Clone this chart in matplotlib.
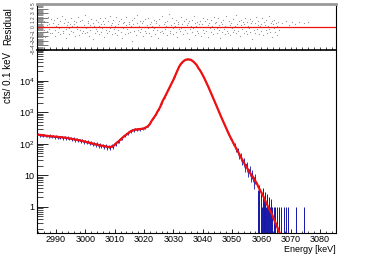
import numpy as np
import matplotlib
matplotlib.use('Agg')
import matplotlib.pyplot as plt
from matplotlib.ticker import MultipleLocator, LogLocator, FuncFormatter, NullFormatter

plt.rcParams['font.family'] = ['Liberation Sans', 'DejaVu Sans']
plt.rcParams['mathtext.fontset'] = 'custom'
plt.rcParams['mathtext.rm'] = 'Liberation Sans'
plt.rcParams['mathtext.it'] = 'Liberation Sans:italic'

# fit curve, 0.5 keV steps starting at 2984.0 keV
fit_start = 2984.0
fit_cts = [192, 190, 188, 186, 182, 179, 177, 175,
           173, 171, 170, 168, 167, 165, 163, 162,
           160, 158, 155, 153, 150, 148, 145, 142,
           139, 136, 133, 131, 128, 125, 122, 119,
           116, 113, 110, 107, 104, 102, 99, 96,
           94, 91, 89, 87, 85, 83, 81, 79,
           78, 78, 80, 84, 92, 103, 112, 123,
           136, 150, 164, 180, 195, 212, 232, 250,
           260, 270, 280, 284, 287, 289, 294, 298,
           305, 325, 340, 370, 420, 510, 600, 700,
           810, 1000, 1200, 1450, 1900, 2400, 2900, 3600,
           4500, 5600, 7000, 8600, 10500, 13500, 17500, 22000,
           28000, 33000, 37500, 41500, 45000, 46800, 47500, 47000,
           45800, 42500, 39000, 35000, 31000, 25500, 22000, 18500,
           15200, 12400, 9900, 7900, 6200, 4850, 3800, 2950,
           2300, 1780, 1380, 1070, 830, 650, 510, 400,
           315, 248, 196, 158, 128, 104, 86, 70,
           57, 46, 38, 31, 26, 21, 18, 15,
           12.5, 10.5, 9, 8, 6.5, 5.5, 4.3, 3.5,
           2.8, 2.3, 1.9, 1.45, 1.15, 0.92, 0.75, 0.62,
           0.48, 0.37, 0.29, 0.22, 0.17, 0.13]

# measured spectrum, 0.5 keV steps starting at 2984.0 keV
data_start = 2984.0
data_cts = [200, 178, 195, 170, 188, 172, 181, 166,
            182, 160, 176, 158, 171, 152, 168, 150,
            166, 147, 162, 141, 158, 139, 151, 133,
            147, 128, 140, 122, 133, 117, 129, 110,
            121, 105, 116, 99, 110, 94, 104, 90,
            99, 84, 95, 80, 90, 76, 86, 72,
            83, 70, 86, 76, 98, 96, 116, 114,
            143, 141, 172, 170, 204, 200, 240, 238,
            270, 255, 292, 268, 298, 275, 305, 283,
            316, 312, 352, 360, 430, 500, 610, 690,
            815, 1005, 1195, 1445, 1905, 2395, 2910, 3590,
            4510, 5590, 7020, 8580, 10520, 13480, 17520, 21980,
            28030, 32970, 37530, 41480, 45030, 46770, 47530, 46980,
            45820, 42470, 39040, 34970, 31030, 25480, 22030, 18470,
            15230, 12380, 9920, 7880, 6220, 4830, 3810, 2940,
            2310, 1770, 1390, 1060, 840, 640, 515, 395,
            320, 240, 200, 150, 134, 100, 92, 64,
            64, 40, 43, 26, 30, 17, 22, 12,
            15, 9, 11, 6, 8]

# sparse high-energy tail bins (drawn down to the axis)
tail_E = [3058.9, 3059.4, 3059.8, 3060.2, 3060.5, 3060.8, 3061.1, 3061.3,
          3061.6, 3061.9, 3062.2, 3062.6, 3063.0, 3063.4, 3063.8, 3064.2,
          3064.7, 3065.3, 3065.9, 3066.8, 3067.6, 3068.5, 3069.1, 3071.9,
          3074.7]
tail_cts = [3.5, 5, 2.5, 1, 4, 2, 1, 3,
            1, 2.5, 1, 2, 1, 1.8, 1, 1,
            1, 1, 1, 1, 1, 1, 1, 1,
            1]

# residuals, 0.25 keV steps from 2984 to 3066 keV
resid = [0.4, -1.1, 1.6, -0.3, 0.9, -1.8, 0.2, 1.3, -0.7, -2.1, 1.0, 0.5, -0.9, 2.2, -0.4, 0.7, -1.4, 1.8, -0.1, -1.2,
         0.8, 1.5, -0.6, -1.9, 0.3, 2.0, -1.0, 0.6, -0.2, 1.2, -1.6, 0.1, 2.4, -0.8, -1.3, 0.9, 1.7, -0.5, -2.3, 0.4,
         1.1, -0.3, -1.5, 0.7, 1.9, -0.9, 0.2, -1.1, 1.4, 0.6, -2.0, 1.0, -0.4, 0.3, 2.1, -1.7, -0.6, 1.3, 0.0, -1.2,
         1.6, -0.8, 0.5, -1.4, 2.6, -0.2, -1.0, 0.8, 1.2, -1.9, 0.4, -0.7, 1.8, -0.1, -2.5, 0.9, 0.2, -1.3, 1.5, -0.5,
         -0.9, 1.1, 0.3, -1.6, 2.0, 0.6, -1.1, -0.3, 1.4, -2.2, 0.7, 1.9, -0.6, 0.1, -1.4, 1.2, -0.8, 2.3, -0.2, 0.5,
         -1.5, 0.9, 1.6, -0.4, -1.2, 0.2, 2.1, -1.8, 0.6, -0.7, 1.3, 0.0, -1.0, 1.7, -2.4, 0.8, -0.3, 1.0, -1.6, 0.4,
         2.2, -0.5, -1.3, 0.7, 1.1, -1.0, 0.3, -3.1, 1.5, 0.6, -0.8, 1.9, -0.1, -1.7, 0.9, 2.5, -0.6, 0.2, -1.1, 1.3,
         -0.4, 0.8, -2.0, 1.4, 0.1, -0.9, 1.8, -1.4, 0.5, -0.3, 2.0, -1.2, 0.7, 1.0, -1.9, 0.3, -0.7, 1.6, -0.2, -1.5,
         0.9, 1.2, -0.6, -2.3, 0.4, 1.7, -1.0, 0.0, 2.3, -0.8, -1.4, 0.6, 1.1, -0.5, 0.2, -1.8, 1.4, -0.1, 2.8, -0.9,
         -1.2, 0.5, 1.9, -0.3, -1.6, 0.8, 0.3, -1.1, 1.5, -2.1, 0.7, 1.0, -0.4, -0.9, 2.1, -0.2, 0.6, -1.5, 1.2, 0.1,
         -0.7, 1.8, -1.3, 0.4, 0.9, -2.6, 1.3, -0.5, 0.2, 1.6, -1.0, -0.2, 2.4, -1.7, 0.8, 0.3, -0.8, 1.1, -1.2, 0.6,
         1.4, -0.1, -1.9, 0.7, 2.0, -0.6, -1.4, 1.2, 0.0, -0.9, 1.7, -2.2, 0.5, 0.9, -0.3, 1.5, -1.1, 0.2, -1.6, 2.2,
         -0.4, 0.8, 1.1, -1.3, -0.2, 1.9, -0.7, 0.4, -2.4, 1.0, 0.6, -1.0, 1.6, -0.5, -1.5, 0.3, 2.3, -0.8, 0.1, -1.2,
         1.3, 0.5, -1.7, 0.9, -0.3, 1.8, -1.1, -0.6, 0.2, 2.6, -1.4, 0.7, -0.9, 1.2, 0.0, -2.0, 1.5, 0.4, -0.5, 1.0,
         -1.3, 0.6, 2.0, -0.8, -1.6, 1.1, 0.3, -0.2, 1.7, -1.0, 0.8, -2.7, 1.4, 0.1, -0.6, 0.9, -1.2, 2.1, -0.4, 0.5,
         1.2, -1.5, 0.2, 0.7, -0.9, 1.9, -0.1, -1.8, 1.0, 0.4, -0.7, 1.6, -1.3, 0.3, 2.4, -0.5, -1.1, 0.8, 1.3, -2.1,
         0.6, -0.3, 1.5, -1.0, 0.9, -1.7, 0.2, 1.1, -0.6]
resid_tail_E = [3067.0, 3068.3, 3069.5, 3070.4, 3071.6, 3072.8, 3074.5, 3076.0]
resid_tail = [0.8, 1.2, 0.5, 1.0, 0.7, 1.1, 0.9, 1.0]

fit_E = fit_start + 0.5 * np.arange(len(fit_cts))
data_E = data_start + 0.5 * np.arange(len(data_cts))
data_cts = np.array(data_cts, dtype=float)
res_E = np.linspace(2984.0, 3066.0, len(resid))

xmin, xmax = 2983.5, 3085.5
ymin, ymax = 0.146, 94000
blue = '#1515a8'
red = '#f01010'

fig = plt.figure(figsize=(3.74, 2.54), dpi=100)
ax = fig.add_axes([37/374, 21/254, 299/374, 183/254])
axr = fig.add_axes([37/374, 204/254, 299/374, 46/254])

# main panel
ax.errorbar(data_E, data_cts, yerr=np.sqrt(data_cts), color=blue, lw=0.7,
            elinewidth=0.6, capsize=0, zorder=2)
ax.vlines(tail_E, ymin, tail_cts, color=blue, lw=0.7, zorder=2)
ax.plot(fit_E, fit_cts, color=red, lw=1.6, zorder=3)

ax.set_xlim(xmin, xmax)
ax.set_yscale('log')
ax.set_ylim(ymin, ymax)
ax.xaxis.set_major_locator(MultipleLocator(10))
ax.xaxis.set_minor_locator(MultipleLocator(2))
ax.yaxis.set_major_locator(LogLocator(base=10, numticks=20))
ax.yaxis.set_minor_locator(LogLocator(base=10, subs=np.arange(2, 10), numticks=20))
ax.yaxis.set_minor_formatter(NullFormatter())


def ylab(v, pos):
    if v >= 100:
        return r'$10^{%d}$' % round(np.log10(v))
    if v >= 1:
        return '%d' % round(v)
    return ''


ax.yaxis.set_major_formatter(FuncFormatter(ylab))
ax.tick_params(axis='y', which='major', direction='in', length=8, width=0.6,
               labelsize=6.5, pad=2)
ax.tick_params(axis='y', which='minor', direction='in', length=4, width=0.5)
ax.tick_params(axis='x', which='major', direction='in', length=3, width=0.6,
               labelsize=6.5, pad=1.5)
ax.tick_params(axis='x', which='minor', direction='in', length=1.5, width=0.5)
ax.spines['top'].set_visible(False)
for s in ['left', 'bottom', 'right']:
    ax.spines[s].set_linewidth(0.8)

# residual panel
axr.plot(res_E, resid, ls='none', marker='s', ms=0.8, mew=0, color='#9a9a9a')
axr.plot(resid_tail_E, resid_tail, ls='none', marker='s', ms=0.8, mew=0, color='#9a9a9a')
axr.axhline(0, color=red, lw=0.9)
axr.set_xlim(xmin, xmax)
axr.set_ylim(-5, 5)
axr.xaxis.set_major_locator(MultipleLocator(10))
axr.xaxis.set_minor_locator(MultipleLocator(2))
axr.yaxis.set_major_locator(MultipleLocator(1))
axr.yaxis.set_minor_locator(MultipleLocator(0.25))
axr.tick_params(axis='x', which='both', direction='in', labelbottom=False,
                length=2, width=0.5)
axr.tick_params(axis='y', which='major', direction='in', length=8, width=0.5,
                labelsize=3.5, labelrotation=90, pad=1, colors='#444444')
axr.tick_params(axis='y', which='minor', direction='in', length=4.5, width=0.5,
                colors='#666666')
axr.spines['top'].set_color('#999999')
axr.spines['top'].set_linewidth(2)
axr.spines['bottom'].set_linewidth(1.2)
axr.spines['left'].set_linewidth(0.8)
axr.spines['right'].set_linewidth(0.8)

fig.text(8/374, 1 - 26/254, 'Residual', rotation=90, ha='center', va='center', fontsize=7)
fig.text(8/374, 1 - 52/254, 'cts/ 0.1 keV', rotation=90, ha='center', va='top', fontsize=7)
fig.text(336/374, 1 - 250/254, 'Energy [keV]', ha='right', va='center', fontsize=6.5)

fig.savefig('out.png', dpi=100)
